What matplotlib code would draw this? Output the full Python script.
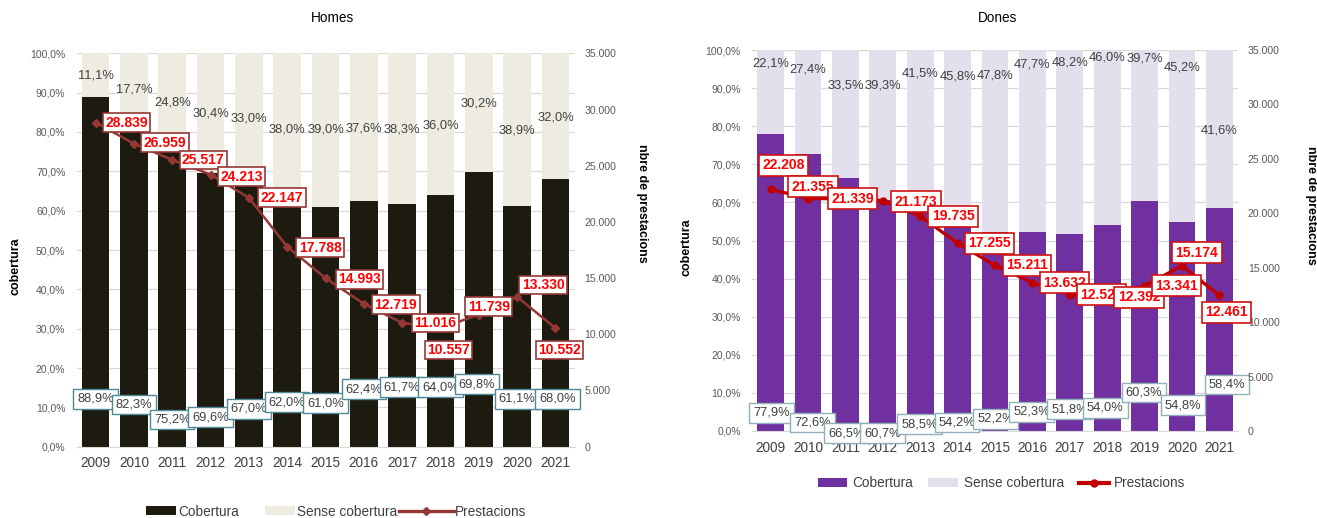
import numpy as np
import matplotlib
matplotlib.use("Agg")
import matplotlib.pyplot as plt
from matplotlib import font_manager
from matplotlib.patches import Patch, Rectangle
from matplotlib.lines import Line2D
from matplotlib.legend_handler import HandlerPatch
from matplotlib.ticker import FuncFormatter

# ---------------- data ----------------
years = [2009, 2010, 2011, 2012, 2013, 2014, 2015, 2016, 2017, 2018, 2019, 2020, 2021]

homes_cobertura = [88.9, 82.3, 75.2, 69.6, 67.0, 62.0, 61.0, 62.4, 61.7, 64.0, 69.8, 61.1, 68.0]
homes_sense = [11.1, 17.7, 24.8, 30.4, 33.0, 38.0, 39.0, 37.6, 38.3, 36.0, 30.2, 38.9, 32.0]
homes_prestacions = [28839, 26959, 25517, 24213, 22147, 17788, 14993, 12719, 11016, 10557, 11739, 13330, 10552]

dones_cobertura = [77.9, 72.6, 66.5, 60.7, 58.5, 54.2, 52.2, 52.3, 51.8, 54.0, 60.3, 54.8, 58.4]
dones_sense = [22.1, 27.4, 33.5, 39.3, 41.5, 45.8, 47.8, 47.7, 48.2, 46.0, 39.7, 45.2, 41.6]
dones_prestacions = [22208, 21355, 21339, 21173, 19735, 17255, 15211, 13632, 12524, 12392, 13341, 15174, 12461]

# ---------------- label layout (where the original's labels sit) ----------------
homes_cob_lbl_y = [12.2, 10.7, 6.9, 7.5, 9.6, 11.3, 11.1, 14.6, 15.1, 15.1, 15.9, 12.2, 12.2]
homes_cob_lbl_dx = [0, 0, 0, 0, 0, 0, 0, 0, 0, 0, -0.05, 0, 0.05]
homes_sense_lbl_y = [94.3, 90.9, 87.5, 84.8, 83.3, 80.7, 80.6, 80.8, 80.6, 81.7, 87.2, 80.3, 83.8]
homes_prest_off = [(31, 0), (31, -1), (31, 0), (31, 2), (33, 0), (33, 1), (34, 1),
                   (32, 1), (33, 0), (8, 22), (10, -8), (26, -12), (4, 22)]

dones_cob_lbl_y = [4.8, 2.2, -0.6, -0.6, 1.8, 2.2, 3.2, 5.0, 5.7, 6.1, 10.1, 6.8, 12.2]
dones_cob_lbl_dx = [0.02, 0.12, 0.02, -0.01, -0.02, -0.02, 0.02, -0.02, -0.01, -0.05, -0.01, 0.03, 0.2]
dones_sense_lbl_y = [96.5, 94.9, 90.8, 90.8, 93.9, 93.0, 93.2, 96.1, 96.7, 98.1, 97.8, 95.4, 79.0]
dones_prest_off = [(13, -24), (5, -12), (7, 0), (33, 1), (33, 0), (32, 0), (32, 0),
                   (32, 0), (32, 0), (32, 1), (32, 0), (15, -13), (7, 17)]

# ---------------- fonts ----------------
_names = {f.name for f in font_manager.fontManager.ttflist}
SANS = "Liberation Sans" if "Liberation Sans" in _names else "DejaVu Sans"
plt.rcParams["font.family"] = [SANS, "DejaVu Sans"]


def pct_fmt(v):
    return f"{v:.1f}".replace(".", ",") + "%"


def thou_fmt(v):
    return f"{v:,.0f}".replace(",", ".")


class NarrowPatchHandler(HandlerPatch):
    def __init__(self, frac=1.0):
        super().__init__()
        self.frac = frac

    def create_artists(self, legend, orig_handle, xdescent, ydescent, width, height, fontsize, trans):
        w = width * self.frac
        p = Rectangle((-xdescent + width - w, -ydescent), w, height,
                      facecolor=orig_handle.get_facecolor(), edgecolor="none", transform=trans)
        return [p]


fig = plt.figure(figsize=(13.17, 5.18), dpi=100)
W, H = 1317.0, 518.0


def panel(rect, title, title_xy, cob, sense, prest, c_dark, c_light, c_line, marker, lw, ms,
          box_edge_p, box_edge_c, prest_pad, cob_y, cob_dx, sense_y, prest_off,
          ylab_xy, y2lab_xy, bar_w, legend_cfg):
    ax = fig.add_axes(rect)
    x = np.arange(len(years))
    ax.bar(x, cob, width=bar_w, color=c_dark, zorder=2)
    ax.bar(x, sense, width=bar_w, bottom=cob, color=c_light, zorder=2)
    ax.set_xlim(-0.5, len(years) - 0.5)
    ax.set_ylim(0, 100)
    ax.set_yticks(np.arange(0, 101, 10))
    ax.yaxis.set_major_formatter(FuncFormatter(lambda v, p: pct_fmt(v)))
    ax.set_xticks(x)
    ax.set_xticklabels([str(y) for y in years])
    ax.grid(axis="y", color="#d9d9d9", linewidth=0.9)
    ax.set_axisbelow(True)
    for s in ["top", "left", "right"]:
        ax.spines[s].set_visible(False)
    ax.spines["bottom"].set_color("#d9d9d9")
    ax.tick_params(axis="y", length=0, pad=8, labelsize=7.5, labelcolor="#595959")
    ax.tick_params(axis="x", length=0, pad=7, labelsize=9.8, labelcolor="#404040")
    ax.set_ylabel("cobertura", fontweight="bold", fontsize=9, va="center")
    ax.yaxis.set_label_coords(*ylab_xy)

    # labels of the bars
    for i in range(len(years)):
        ax.text(i, sense_y[i], pct_fmt(sense[i]), ha="center", va="center",
                fontsize=9.3, color="#404040", zorder=5)
    for i in range(len(years)):
        ax.text(i + cob_dx[i], cob_y[i], pct_fmt(cob[i]), ha="center", va="center",
                fontsize=9.3, color="#404040", zorder=5,
                bbox=dict(boxstyle="square,pad=0.3", facecolor="white",
                          edgecolor=box_edge_c, linewidth=1.0))

    ax2 = ax.twinx()
    ax2.plot(x, prest, color=c_line, linewidth=lw, marker=marker, markersize=ms,
             markerfacecolor=c_line, markeredgecolor=c_line, zorder=3)
    ax2.set_ylim(0, 35000)
    ax2.set_yticks(np.arange(0, 35001, 5000))
    ax2.yaxis.set_major_formatter(FuncFormatter(lambda v, p: thou_fmt(v)))
    for s in ax2.spines.values():
        s.set_visible(False)
    ax2.tick_params(axis="y", length=0, pad=7, labelsize=7.6, labelcolor="#595959")
    ax2.set_ylabel("nbre de prestacions", fontweight="bold", fontsize=9,
                   rotation=270, va="center")
    ax2.yaxis.set_label_coords(*y2lab_xy)
    for i in range(len(years)):
        dx, dy = prest_off[i]
        ax2.annotate(thou_fmt(prest[i]), (i, prest[i]), xytext=(dx * 0.72, -dy * 0.72),
                     textcoords="offset points", ha="center", va="center",
                     fontsize=10, fontweight="bold", color="#ff0000", zorder=6,
                     bbox=dict(boxstyle=f"square,pad={prest_pad}", facecolor="white",
                               edgecolor=box_edge_p, linewidth=1.2))

    fig.text(title_xy[0] / W, 1 - title_xy[1] / H, title, ha="center", va="center",
             fontsize=9.8, color="#000000")

    handles = [Patch(facecolor=c_dark), Patch(facecolor=c_light),
               Line2D([], [], color=c_line, linewidth=lw + 0.6, marker=marker,
                      markersize=ms, markerfacecolor=c_line, markeredgecolor=c_line)]
    hl, frac, cs, htp, lx, ly = legend_cfg
    fig.legend(handles, ["Cobertura", "Sense cobertura", "Prestacions"],
               loc="center", bbox_to_anchor=(lx / W, 1 - ly / H), ncol=3, frameon=False,
               fontsize=9.8, labelcolor="#404040", handlelength=hl, handleheight=0.6,
               columnspacing=cs, handletextpad=htp, borderpad=0, borderaxespad=0,
               handler_map={Patch: NarrowPatchHandler(frac)})
    return ax, ax2


# Homes (left)
panel([76.5 / W, 1 - 446.7 / H, 498.1 / W, 393.4 / H], "Homes", (332, 18),
      homes_cobertura, homes_sense, homes_prestacions,
      "#1d1b10", "#eeece1", "#953735", "D", 1.8, 4.2,
      "#953735", "#4f8896", 0.17,
      homes_cob_lbl_y, homes_cob_lbl_dx, homes_sense_lbl_y, homes_prest_off,
      (-0.123, 0.459), (1.135, 0.619), 0.72,
      (4.0, 0.56, 0.15, 0.12, 324.3, 511.5))

# Dones (right)
panel([752 / W, 1 - 431 / H, 486 / W, 381 / H], "Dones", (998, 18),
      dones_cobertura, dones_sense, dones_prestacions,
      "#7030a0", "#e4dfec", "#c00000", "o", 2.4, 5.0,
      "#d01010", "#8fb0bb", 0.25,
      dones_cob_lbl_y, dones_cob_lbl_dx, dones_sense_lbl_y, dones_prest_off,
      (-0.134, 0.483), (1.150, 0.593), 0.715,
      (2.2, 1.0, 1.1, 0.38, 1001.4, 483.3))

fig.savefig("out.png", dpi=100)
